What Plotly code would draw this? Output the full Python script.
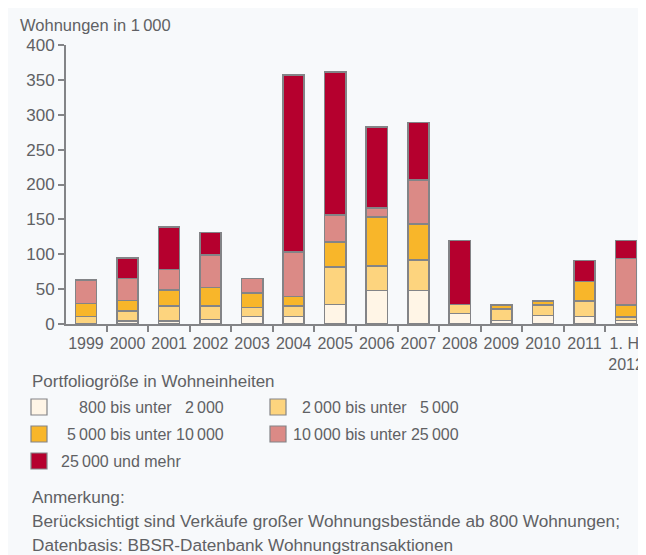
import plotly.graph_objects as go

categories = ["1999", "2000", "2001", "2002", "2003", "2004", "2005", "2006",
              "2007", "2008", "2009", "2010", "2011", "1. Hj<br>2012"]
s_800_2000 = [0, 4.7, 4, 6.2, 11, 11, 27.8, 48.3, 48.3, 15.3, 5, 12.4, 10.9, 5]
s_2000_5000 = [10.5, 14, 21.4, 19.2, 12.4, 14.4, 54, 34.5, 43.1, 12.5, 16.5, 14.8, 22.5, 5]
s_5000_10000 = [19, 14.8, 23, 26.8, 21, 14.3, 35.9, 70.8, 52.1, 0, 5.5, 5.5, 27.3, 17]
s_10000_25000 = [33.5, 32, 29.7, 46.9, 21, 63.6, 38.3, 12.9, 62.7, 0, 0, 0, 0, 67]
s_25000_plus = [0, 29, 61, 32, 0, 254, 205, 116, 82.6, 92.2, 0, 0, 30.1, 25.5]

series_names = ["800 bis unter 2 000", "2 000 bis unter 5 000",
                "5 000 bis unter 10 000", "10 000 bis unter 25 000",
                "25 000 und mehr"]
legend_texts = ["\u2007\u2009800 bis unter \u20072\u2009000",
                "2\u2009000 bis unter \u20075\u2009000",
                "5\u2009000 bis unter 10\u2009000",
                "10\u2009000 bis unter 25\u2009000",
                "25\u2009000 und mehr"]
colors = ["#FFF5E6", "#FDD47E", "#F8B62A", "#DB8A86", "#B5002E"]
y_ticks = [0, 50, 100, 150, 200, 250, 300, 350, 400]

FONT = "Liberation Sans, Arial, sans-serif"
TXT = "#606164"
LINE = "#838487"

OFF = 8                      # page offset of the figure (body margin)
W, H = 646 - OFF, 555 - OFF
X0_PAGE, X1_PAGE = 66, 646   # plot area in page pixels
Y_TOP_PAGE, Y_BOT_PAGE = 45, 324
L = X0_PAGE - OFF
R = 0
T = Y_TOP_PAGE - OFF
B = H - (Y_BOT_PAGE - OFF)
pw, ph = W - L - R, H - T - B


def px(x):
    return (x - OFF - L) / pw


def py(y):
    return ((Y_BOT_PAGE - OFF) - (y - OFF)) / ph


fig = go.Figure()
all_series = [s_800_2000, s_2000_5000, s_5000_10000, s_10000_25000, s_25000_plus]
for name, vals, col in zip(series_names, all_series, colors):
    fig.add_trace(go.Bar(x=categories, y=vals, name=name, marker=dict(
        color=col, line=dict(color=LINE, width=1.6)), width=0.51, showlegend=False))

shapes = []
annotations = [
    dict(text="Wohnungen in 1\u2009000", xref="paper", yref="paper", x=px(18), y=py(25),
         xanchor="left", yanchor="middle", showarrow=False, font=dict(size=16.5, color=TXT, family=FONT)),
    dict(text="Portfoliogröße in Wohneinheiten", xref="paper", yref="paper", x=px(30), y=py(381),
         xanchor="left", yanchor="middle", showarrow=False, font=dict(size=17, color=TXT, family=FONT)),
]

# legend (manual)
legend_pos = [(31, 407, 226, "right"), (270, 407, 461, "right"),
              (31, 434, 226, "right"), (270, 434, 461, "right"),
              (31, 461, 59, "left")]
for (sx, sy, tx, anch), col, txt in zip(legend_pos, colors, legend_texts):
    shapes.append(dict(type="rect", xref="paper", yref="paper", x0=px(sx), x1=px(sx + 16),
                       y0=py(sy + 8), y1=py(sy - 8), fillcolor=col, line=dict(color=LINE, width=1.2)))
    annotations.append(dict(text=txt, xref="paper", yref="paper", x=px(tx), y=py(sy),
                            xanchor=anch, yanchor="middle", showarrow=False,
                            font=dict(size=16, color=TXT, family=FONT)))

note_lines = ["Anmerkung:",
              "Berücksichtigt sind Verkäufe großer Wohnungsbestände ab 800 Wohnungen;",
              "Datenbasis: BBSR-Datenbank Wohnungstransaktionen"]
for i, line in enumerate(note_lines):
    annotations.append(dict(text=line, xref="paper", yref="paper", x=px(30), y=py(497 + 24 * i),
                            xanchor="left", yanchor="middle", showarrow=False,
                            font=dict(size=17.2, color=TXT, family=FONT)))

fig.update_layout(
    width=W, height=H, margin=dict(l=L, r=R, t=T, b=B, autoexpand=False),
    barmode="stack", paper_bgcolor="#F7F9FB", plot_bgcolor="rgba(0,0,0,0)",
    font=dict(family=FONT, color=TXT, size=16),
    shapes=shapes, annotations=annotations,
    xaxis=dict(type="category", range=[-0.48, 13.48], showline=True, linecolor=LINE,
               linewidth=2, ticks="outside", tickson="boundaries", ticklen=6,
               tickcolor=LINE, tickwidth=1.5, showgrid=False, tickangle=0,
               ticklabelstandoff=4, tickfont=dict(size=16, color=TXT)),
    yaxis=dict(range=[0, 400], tickvals=y_ticks, showline=True, linecolor=LINE, linewidth=2,
               ticks="outside", ticklen=6, tickcolor=LINE, tickwidth=1.5, showgrid=False,
               zeroline=False, tickfont=dict(size=17, color=TXT)),
)

fig.write_html("out.html")
